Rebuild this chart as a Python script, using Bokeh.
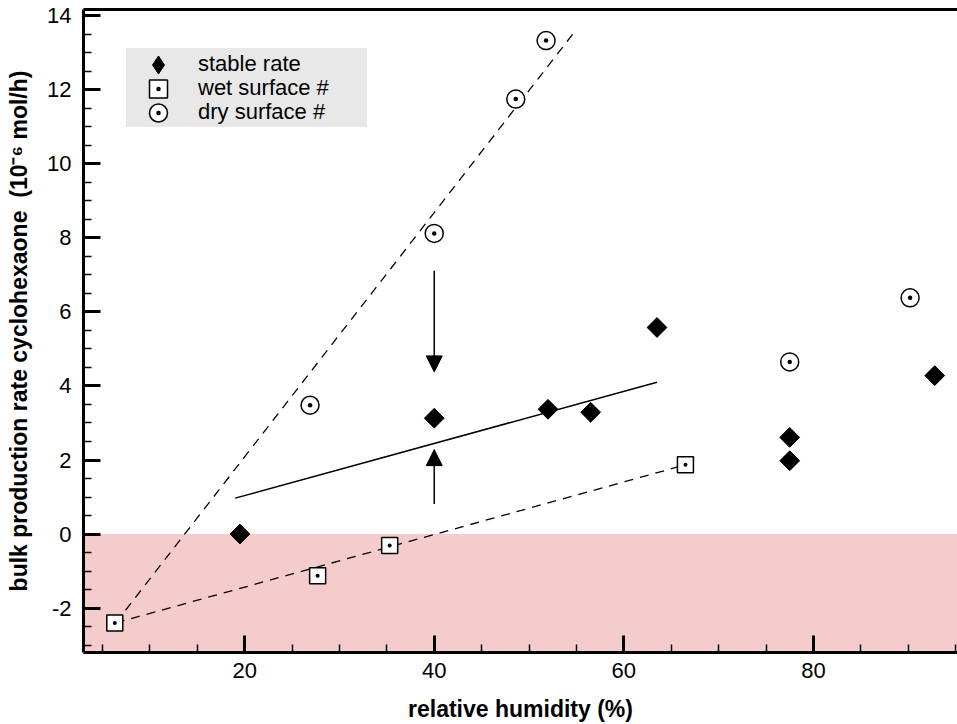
import numpy as np
from bokeh.plotting import figure
from bokeh.models import (Range1d, FixedTicker, LinearAxis, BoxAnnotation, Arrow,
                          NormalHead, Legend, LegendItem)
from bokeh.embed import file_html
from bokeh.resources import INLINE

# ---- data ----
stable_x = [19.5, 40.0, 52.0, 56.5, 63.5, 77.5, 77.5, 92.8]
stable_y = [0.0, 3.13, 3.37, 3.29, 5.58, 2.61, 1.98, 4.28]

wet_x = [6.3, 27.7, 35.3, 66.5]
wet_y = [-2.4, -1.13, -0.31, 1.87]

dry_x = [26.9, 40.0, 48.6, 51.8, 77.5, 90.2]
dry_y = [3.48, 8.12, 11.75, 13.33, 4.65, 6.38]

# fitted / guide lines
dry_line_x = [6.4, 54.6]
dry_line_y = [-2.4, 13.5]
wet_line_x = [6.4, 66.5]
wet_line_y = [-2.4, 1.87]
stable_line_x = [19.0, 63.5]
stable_line_y = [0.97, 4.1]

# arrows (x, y_start, y_end)
arrow_down = (40.0, 7.11, 4.38)
arrow_up = (40.0, 0.81, 2.28)

x_ticks = [20, 40, 60, 80]
y_ticks = [-2, 0, 2, 4, 6, 8, 10, 12, 14]
y_tick_labels = ["-2", "0", "2", "4", "6", "8", "10", "12", "14"]

legend_labels = ["stable rate", "wet surface #", "dry surface #"]

FONT = "Liberation Sans"

p = figure(width=957, height=724, output_backend="svg", toolbar_location=None,
           x_range=Range1d(3.0, 95.2), y_range=Range1d(-3.2, 14.17),
           min_border_left=83, min_border_right=0, min_border_top=9, min_border_bottom=0)
p.grid.visible = False
p.outline_line_color = None
p.background_fill_color = "white"

# negative region
p.add_layout(BoxAnnotation(top=0, fill_color="#f5cccc", fill_alpha=1.0, line_color=None, level="underlay"))

for ax in (p.xaxis[0], p.yaxis[0]):
    ax.axis_line_width = 3
    ax.axis_line_color = "black"
    ax.major_tick_in = 17
    ax.major_tick_out = 0
    ax.minor_tick_in = 8
    ax.minor_tick_out = 0
    ax.major_tick_line_width = 3
    ax.minor_tick_line_width = 1.5
    ax.major_label_text_font = FONT
    ax.major_label_text_font_size = "22px"
    ax.major_label_text_color = "black"
    ax.axis_label_text_font = FONT
    ax.axis_label_text_font_style = "bold"
    ax.axis_label_text_color = "black"
    ax.axis_label_text_font_size = "23px"

p.xaxis[0].ticker = FixedTicker(ticks=x_ticks, minor_ticks=list(range(5, 96, 5)))
p.yaxis[0].ticker = FixedTicker(ticks=y_ticks, minor_ticks=list(np.arange(-3.0, 14.01, 0.5)))
p.yaxis[0].major_label_overrides = {t: l for t, l in zip(y_ticks, y_tick_labels)}
p.xaxis[0].axis_label = "relative humidity (%)"
p.yaxis[0].axis_label = "bulk production rate cyclohexaone \u00a0(10\u207b\u2076 mol/h)"
p.xaxis[0].major_label_standoff = 10
p.yaxis[0].major_label_standoff = 12
p.xaxis[0].axis_label_standoff = 15
p.yaxis[0].axis_label_standoff = 12

# top border
top = LinearAxis(axis_line_width=3, major_tick_in=0, major_tick_out=0,
                 minor_tick_in=0, minor_tick_out=0, major_label_text_font_size="0px",
                 ticker=FixedTicker(ticks=[]))
p.add_layout(top, "above")

# lines
p.line(dry_line_x, dry_line_y, line_color="black", line_width=1.3, line_dash="9 7")
p.line(wet_line_x, wet_line_y, line_color="black", line_width=1.3, line_dash="9 7")
p.line(stable_line_x, stable_line_y, line_color="black", line_width=1.5)

# arrows
for (ax_, y0, y1) in (arrow_down, arrow_up):
    p.add_layout(Arrow(x_start=ax_, y_start=y0, x_end=ax_, y_end=y1, line_width=1.5,
                       end=NormalHead(size=16, fill_color="black", line_color="black")))

p.scatter(stable_x, stable_y, marker="square", angle=np.pi / 4, size=14,
          fill_color="black", line_color="black")
r_wet = p.scatter(wet_x, wet_y, marker="square_dot", size=16, fill_color="white",
                  line_color="black", line_width=1.5)
r_dry = p.scatter(dry_x, dry_y, marker="circle_dot", size=18, fill_color="white",
                  line_color="black", line_width=1.5)
# legend-only glyph for the diamond symbol (not drawn in the plot)
r_stable_leg = p.scatter(x=[np.nan], y=[np.nan], marker="diamond", size=20,
                         fill_color="black", line_color="black")
r_empty = p.scatter(x=[], y=[], size=1, fill_alpha=0, line_alpha=0)

# legend background box
bg = Legend(items=[LegendItem(label="\u00a0", renderers=[r_empty])],
            location=(43, 525), margin=0, padding=0, spacing=0,
            glyph_width=221, glyph_height=79, label_height=79, label_standoff=0,
            label_text_font_size="1px",
            background_fill_color="#e8e8e8", background_fill_alpha=1.0,
            border_line_color=None)
p.add_layout(bg, "center")

centers_from_bottom = [650 - 84.5, 650 - 108.5, 650 - 132.5]
for lab, rend, yloc in zip(legend_labels, [r_stable_leg, r_wet, r_dry], centers_from_bottom):
    lg = Legend(items=[LegendItem(label=lab, renderers=[rend])],
                location=(43, yloc), margin=0, padding=0, spacing=0,
                glyph_width=64, glyph_height=45, label_height=45, label_standoff=8,
                background_fill_alpha=0.0, border_line_color=None,
                label_text_font=FONT, label_text_font_size="22px", label_text_color="black")
    p.add_layout(lg, "center")

open("out.html", "w").write(file_html(p, INLINE))
